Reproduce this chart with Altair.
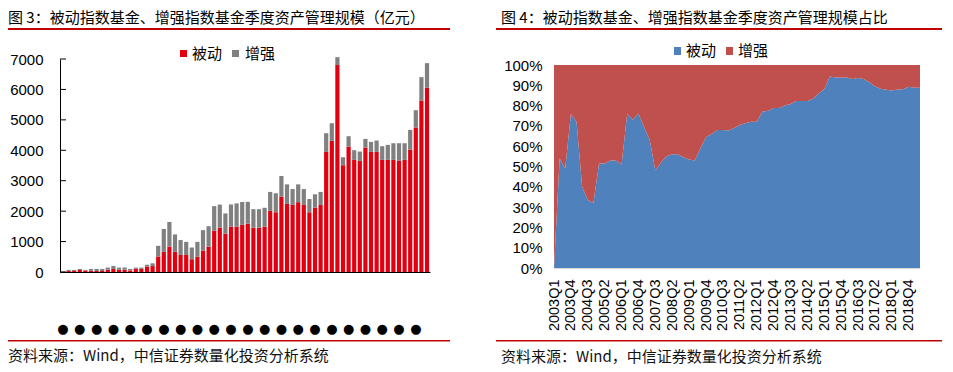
import altair as alt
import pandas as pd

# ---------------- data ----------------
years = list(range(2003, 2020))
quarters = [f"{y}Q{q}" for y in years for q in range(1, 5)][:66]
label_quarters = quarters[::3]

series_names = ["被动", "增强"]

# Fig 3: quarterly AUM (亿元)
passive = [0, 38, 34, 65, 50, 40, 33, 32, 75, 100,
           77, 77, 51, 110, 105, 180, 195, 510, 663, 837,
           663, 560, 560, 420, 500, 700, 835, 1355, 1458, 1261,
           1491, 1491, 1550, 1590, 1458, 1458, 1491, 2010, 1963, 2478,
           2237, 2204, 2295, 2204, 1963, 2116, 2204, 3947, 4309, 6800,
           3509, 4123, 3684, 3651, 4090, 3947, 3947, 3684, 3684, 3684,
           3651, 3684, 4024, 4748, 5636, 6064]
enhanced = [15, 32, 36, 35, 20, 60, 67, 68, 70, 100,
            68, 68, 49, 35, 40, 60, 90, 350, 752, 808,
            572, 490, 430, 385, 490, 675, 670, 810, 757, 664,
            729, 764, 750, 715, 607, 607, 619, 622, 625, 677,
            643, 521, 585, 521, 437, 439, 428, 614, 581, 260,
            263, 340, 318, 307, 285, 329, 373, 450, 494, 548,
            581, 548, 647, 570, 768, 800]

# Fig 4: passive share (%)
passive_pct = [0, 54, 49, 76, 72, 40, 33.5, 32, 51.5, 51.5,
               53, 53, 51, 76, 73, 76, 69.5, 63, 48, 52,
               55, 56, 56, 54.5, 53.5, 53, 59, 64.5, 66, 68,
               68, 67.7, 69, 70.5, 71.3, 72, 72, 77, 77.5, 78.8,
               78.8, 80, 80.8, 82.3, 82.3, 82.3, 83.4, 86, 88.2, 94.3,
               93.8, 93.8, 93.8, 93.1, 93.6, 93.1, 91.5, 89.5, 88.3, 87.8,
               87.5, 87.9, 88.0, 89.3, 88.8, 88.8]

y_ticks_left = [0, 1000, 2000, 3000, 4000, 5000, 6000, 7000]
y_ticks_right = [i / 10 for i in range(11)]

title3 = "图 3：被动指数基金、增强指数基金季度资产管理规模（亿元）"
title4 = "图 4：被动指数基金、增强指数基金季度资产管理规模占比"
source = "资料来源：Wind，中信证券数量化投资分析系统"

CJK = "Noto Sans CJK SC"
NUM = "Liberation Sans"
RED_LINE = "#C00000"

# both plot groups start at the same y (page 59); the right one keeps
# 6px of empty headroom above its 100% line
W1, H1 = 370, 213
W2, H2 = 366, 209
RIGHT_TOP = 209 / 203


def text_layer(txt, x, y, size=15, font=CJK, color="#000"):
    return alt.Chart(pd.DataFrame({"t": [txt]})).mark_text(
        align="left", baseline="middle", font=font, fontSize=size, color=color
    ).encode(text="t:N", x=alt.value(x), y=alt.value(y))


def rect_layer(x, x2, y, y2, color, opacity=1.0):
    return alt.Chart(pd.DataFrame({"a": [0]})).mark_rect(
        color=color, opacity=opacity
    ).encode(x=alt.value(x), x2=alt.value(x2), y=alt.value(y), y2=alt.value(y2))


# ---------------- left panel ----------------
bars_df = pd.DataFrame({
    "quarter": quarters * 2,
    "type1": [series_names[0]] * len(quarters) + [series_names[1]] * len(quarters),
    "value": passive + enhanced,
    "ord": [0] * len(quarters) + [1] * len(quarters),
})

left_y_scale = alt.Scale(domain=[0, 7000], nice=False)
left_y_axis = alt.Axis(values=y_ticks_left, format="d", ticks=False, grid=False,
                       domainColor="#000", labelFont=NUM, labelFontSize=15,
                       labelColor="#000", labelPadding=17, title=None)

bars = alt.Chart(bars_df).mark_bar().encode(
    x=alt.X("quarter:N", sort=quarters,
            scale=alt.Scale(paddingInner=0.25, paddingOuter=0.16),
            axis=alt.Axis(values=label_quarters, labelExpr="'●'", labelAngle=0,
                          ticks=False, domainColor="#000", labelFont="DejaVu Sans",
                          labelFontSize=13, labelColor="#000", labelPadding=56,
                          labelBaseline="middle", labelOverlap=False, title=None)),
    y=alt.Y("value:Q", stack="zero", scale=left_y_scale, axis=left_y_axis),
    color=alt.Color("type1:N", scale=alt.Scale(domain=series_names,
                                               range=["#E1000F", "#808080"]),
                    legend=None),
    order=alt.Order("ord:Q"),
)

tick_rules = alt.Chart(pd.DataFrame({"value": y_ticks_left})).mark_rule(
    color="#000", strokeWidth=1
).encode(y=alt.Y("value:Q", stack=None, scale=left_y_scale, axis=left_y_axis),
         x=alt.value(0), x2=alt.value(6))

left = alt.layer(
    rect_layer(-52, -52, -51, -51, "#fff", 0),
    bars,
    tick_rules,
    text_layer(title3, -52, -41),
    rect_layer(-52, 390, -31, -29, RED_LINE),
    rect_layer(120, 127, -9, -2, "#E1000F"),
    text_layer(series_names[0], 132, -5.5),
    rect_layer(172, 179, -9, -2, "#808080"),
    text_layer(series_names[1], 185, -5.5),
    rect_layer(-52, 390, 281, 282.5, RED_LINE),
    text_layer(source, -52, 297, color="#111"),
).properties(width=W1, height=H1)

# ---------------- right panel ----------------
area_df = pd.DataFrame({
    "quarter": quarters * 2,
    "type2": [series_names[0]] * len(quarters) + [series_names[1]] * len(quarters),
    "share": [p / 100 for p in passive_pct] + [1 - p / 100 for p in passive_pct],
    "ord": [0] * len(quarters) + [1] * len(quarters),
})

area = alt.Chart(area_df).mark_area(opacity=1).encode(
    x=alt.X("quarter:N", sort=quarters,
            scale=alt.Scale(type="point", padding=0),
            axis=alt.Axis(values=label_quarters, labelAngle=270, ticks=False,
                          domainColor="#D9D9D9", labelFont=NUM, labelFontSize=14.5,
                          labelColor="#000", labelPadding=11, labelOverlap=False,
                          title=None)),
    y=alt.Y("share:Q", stack="zero",
            scale=alt.Scale(domain=[0, RIGHT_TOP], nice=False),
            axis=alt.Axis(values=y_ticks_right, format=".0%", ticks=False,
                          domain=False, grid=False, labelFont=NUM, labelFontSize=15,
                          labelColor="#000", labelPadding=12, title=None)),
    color=alt.Color("type2:N", scale=alt.Scale(domain=series_names,
                                               range=["#4F81BD", "#C0504D"]),
                    legend=None),
    order=alt.Order("ord:Q"),
)

right = alt.layer(
    rect_layer(-58, -58, -51, -51, "#fff", 0),
    area,
    text_layer(title4, -53, -41),
    rect_layer(-58, 388, -31, -29, RED_LINE),
    rect_layer(120, 127, -12, -4, "#4F81BD"),
    text_layer(series_names[0], 132, -8),
    rect_layer(172, 179, -12, -4, "#C0504D"),
    text_layer(series_names[1], 184, -8),
    rect_layer(-58, 388, 281, 282.5, RED_LINE),
    text_layer(source, -53, 297.5, color="#111"),
).properties(width=W2, height=H2)

chart = alt.hconcat(left, right, spacing=46).resolve_scale(
    color="independent"
).properties(padding=0, background="white").configure_view(strokeWidth=0)

chart.save("out.html", embed_options={"renderer": "svg", "actions": False})
